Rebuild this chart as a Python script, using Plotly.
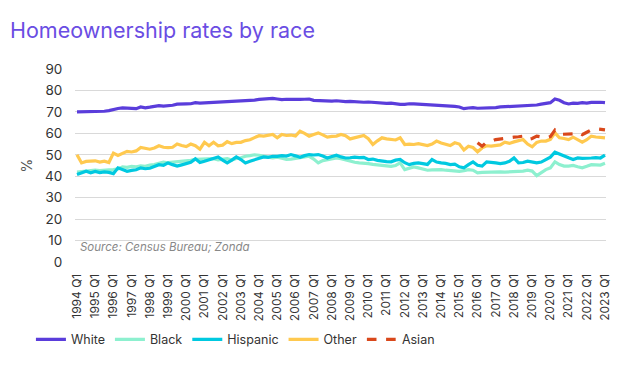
import plotly.graph_objects as go

years = list(range(1994, 2023))
quarters = [f"{y} Q{q}" for y in years for q in range(1, 5)] + ["2023 Q1"]
tick_labels = [f"{y} Q1" for y in range(1994, 2024)]

white = [
    70.0, 70.0, 70.1, 70.0,
    70.2, 70.0, 70.3, 70.6,
    71.2, 71.6, 71.9, 71.8,
    71.9, 71.5, 72.3, 71.9,
    72.2, 72.5, 72.9, 72.7,
    72.8, 73.1, 73.6, 73.5,
    73.7, 73.8, 74.3, 74.1,
    74.2, 74.2, 74.6, 74.5,
    74.8, 74.7, 75.0, 75.0,
    75.2, 75.1, 75.4, 75.5,
    75.8, 76.0, 76.4, 76.3,
    76.0, 75.7, 75.9, 75.8,
    76.0, 75.8, 75.9, 76.0,
    75.4, 75.3, 75.1, 75.2,
    75.0, 75.2, 74.9, 74.8,
    74.9, 74.7, 74.8, 74.5,
    74.6, 74.4, 74.3, 74.2,
    74.0, 74.1, 73.7, 73.5,
    73.5, 73.8, 73.7, 73.6,
    73.4, 73.5, 73.3, 73.2,
    73.0, 72.9, 72.8, 72.6,
    72.3, 71.5, 71.8, 72.0,
    71.7, 71.7, 71.9, 72.0,
    72.0, 72.3, 72.4, 72.6,
    72.9, 72.8, 73.1, 73.0,
    73.3, 73.2, 73.6, 74.0,
    74.3, 76.0, 75.4, 74.3,
    73.7, 74.1, 74.0, 74.3,
    74.1, 74.4, 74.6, 74.5,
    74.3,
]

black = [
    41.9, 42.2, 42.5, 42.6,
    42.8, 42.6, 42.9, 43.0,
    43.1, 43.4, 44.3, 44.1,
    44.6, 44.4, 44.8, 44.6,
    45.2, 45.4, 46.0, 46.6,
    46.3, 46.5, 46.8, 47.1,
    47.2, 47.4, 47.9, 48.0,
    47.8, 48.0, 48.2, 47.6,
    47.9, 48.2, 47.5, 48.3,
    48.6, 49.3, 49.6, 50.0,
    49.8, 49.2, 48.9, 48.6,
    48.9, 48.4, 47.8, 48.0,
    48.3, 48.7, 49.0, 49.3,
    48.0, 46.2, 47.3, 47.8,
    48.0, 48.5, 48.2, 47.6,
    46.8, 46.5, 46.2, 46.1,
    45.9, 45.5, 45.2, 45.0,
    44.8, 44.6, 45.0, 46.2,
    43.1, 43.6, 44.3, 43.9,
    43.3, 42.8, 43.0, 43.2,
    43.1, 42.8, 42.6, 42.5,
    42.3, 42.6, 43.1, 42.8,
    41.6, 41.8, 41.9, 41.7,
    42.0, 42.0, 41.9, 42.0,
    41.9, 42.1, 42.4, 42.8,
    42.4, 40.3, 41.8, 43.1,
    43.9, 46.7, 45.4, 44.7,
    44.7, 45.0, 44.4, 43.9,
    44.6, 45.4, 45.3, 45.2,
    46.0,
]

hispanic = [
    40.8, 41.6, 42.3, 41.6,
    42.2, 41.7, 42.0, 41.8,
    41.2, 43.9, 43.0, 42.3,
    42.7, 43.0, 43.9, 43.5,
    43.7, 44.5, 45.4, 45.1,
    46.2, 45.4, 44.7, 45.3,
    45.8, 46.5, 48.1, 46.4,
    47.0, 47.8, 48.4, 49.0,
    47.5, 46.2, 47.5, 49.0,
    47.8, 46.2, 47.0, 47.8,
    48.6, 49.0, 48.8, 49.3,
    49.3, 49.6, 49.4, 50.1,
    49.5, 48.8, 49.6, 50.1,
    49.9, 50.1, 49.4, 48.5,
    49.2, 49.8, 49.0, 48.5,
    48.6, 48.9, 48.7, 48.8,
    47.8, 48.0, 47.4, 47.0,
    46.8, 46.7, 47.5, 47.8,
    46.3, 45.4, 46.0, 46.2,
    46.0, 45.5, 47.8, 46.6,
    46.2, 46.0, 45.4, 45.6,
    44.4, 43.9, 45.4, 46.7,
    45.1, 44.7, 46.7, 46.3,
    46.2, 45.9, 46.2, 47.0,
    48.5, 46.2, 46.4, 47.0,
    46.6, 46.2, 46.6, 47.8,
    48.9, 51.2, 50.2, 49.4,
    48.6, 47.8, 48.5, 48.3,
    48.3, 48.5, 48.7, 48.5,
    49.8,
]

other = [
    50.0, 46.2, 46.9, 47.0,
    47.2, 46.6, 47.0, 46.4,
    50.8, 49.7, 50.5, 51.6,
    51.3, 51.8, 53.4, 53.0,
    52.6, 53.2, 54.2, 53.5,
    53.3, 53.5, 55.0, 54.3,
    53.8, 55.0, 54.2, 52.6,
    55.8, 54.2, 55.8, 54.2,
    54.5, 56.1, 55.2, 55.8,
    55.8, 56.6, 57.0, 58.0,
    58.9, 58.7, 59.2, 59.5,
    57.9, 59.5, 59.0, 59.2,
    58.8, 61.0, 60.0, 58.7,
    59.5, 60.2, 59.3, 58.2,
    58.6, 58.7, 59.5, 58.9,
    57.4, 58.0, 58.6, 59.0,
    57.5, 54.8, 56.5, 57.9,
    57.4, 57.1, 56.9, 57.9,
    54.8, 55.0, 54.8, 55.2,
    54.6, 54.3, 55.0, 56.4,
    55.5, 54.8, 54.3, 55.6,
    55.0, 52.2, 54.0, 53.4,
    51.4, 53.2, 54.2, 54.0,
    54.4, 54.6, 55.9, 55.3,
    56.0, 56.4, 57.1, 55.0,
    53.7, 55.8, 56.4, 56.4,
    57.2, 60.2, 57.9, 57.6,
    57.1, 58.2, 57.0, 55.9,
    57.0, 58.7, 58.3, 58.0,
    57.9,
]

asian = [None] * 88 + [
    55.6, 54.0, 55.9, 56.3,
    57.1, 57.4, 57.9, 58.0,
    58.2, 58.4, 58.7, 57.1,
    57.6, 58.7, 58.2, 57.9,
    58.5, 61.5, 59.5, 59.5,
    59.5, 59.8, 60.6, 59.4,
    60.5, 61.6, 62.1, 61.9,
    61.6,
]

series = [
    ("White", white, "#5a3ddb", "solid"),
    ("Black", black, "#8df0cf", "solid"),
    ("Hispanic", hispanic, "#00c9e0", "solid"),
    ("Other", other, "#ffc94f", "solid"),
    ("Asian", asian, "#d9481b", "dash"),
]

idx = list(range(len(quarters)))
FONT = "Inter, Lato, sans-serif"

fig = go.Figure()
for name, vals, color, dash in series:
    fig.add_trace(go.Scatter(
        x=idx, y=vals, name=name, mode="lines",
        line=dict(color=color, width=3.2, dash=dash),
        connectgaps=False,
    ))

fig.update_layout(
    width=629, height=366,
    margin=dict(l=67, r=31, t=61, b=112, autoexpand=False),
    paper_bgcolor="white", plot_bgcolor="white",
    font=dict(family=FONT, color="#333333", size=12),
    title=dict(text="Homeownership rates by race", x=2 / 629, xref="container",
               xanchor="left", y=1 - 22 / 366, yanchor="middle",
               pad=dict(l=0), automargin=False,
               font=dict(family=FONT, size=21.5, color="#6a4de3")),
    legend=dict(orientation="h", x=-0.083, xanchor="left", y=-0.325,
                yanchor="top", font=dict(size=12.5, color="#333333"),
                itemwidth=30, tracegroupgap=0, bgcolor="rgba(0,0,0,0)"),
    showlegend=True,
)

fig.update_xaxes(
    range=[-0.44, 116.22],
    tickmode="array",
    tickvals=[i * 4 for i in range(len(tick_labels))],
    ticktext=tick_labels,
    tickangle=-90,
    tickfont=dict(size=12, color="#333333"),
    showgrid=False, zeroline=False, showline=False,
    ticks="outside", ticklen=6, tickcolor="rgba(0,0,0,0)",
    automargin=False,
)
fig.update_yaxes(
    range=[0, 90], dtick=10,
    tickfont=dict(size=13.5, color="#333333"),
    gridcolor="#d9d9d9", gridwidth=1,
    zeroline=False, showline=False,
    title=dict(text="%", font=dict(size=14, color="#555555"), standoff=9),
    ticks="outside", ticklen=9, tickcolor="rgba(0,0,0,0)",
    automargin=False,
)

fig.add_annotation(
    text="<i>Source: Census Bureau; Zonda</i>",
    xref="paper", yref="paper", x=0.005, y=0.08,
    xanchor="left", yanchor="middle", showarrow=False,
    font=dict(family=FONT, size=11.5, color="#888888"),
)

fig.write_html("out.html")
